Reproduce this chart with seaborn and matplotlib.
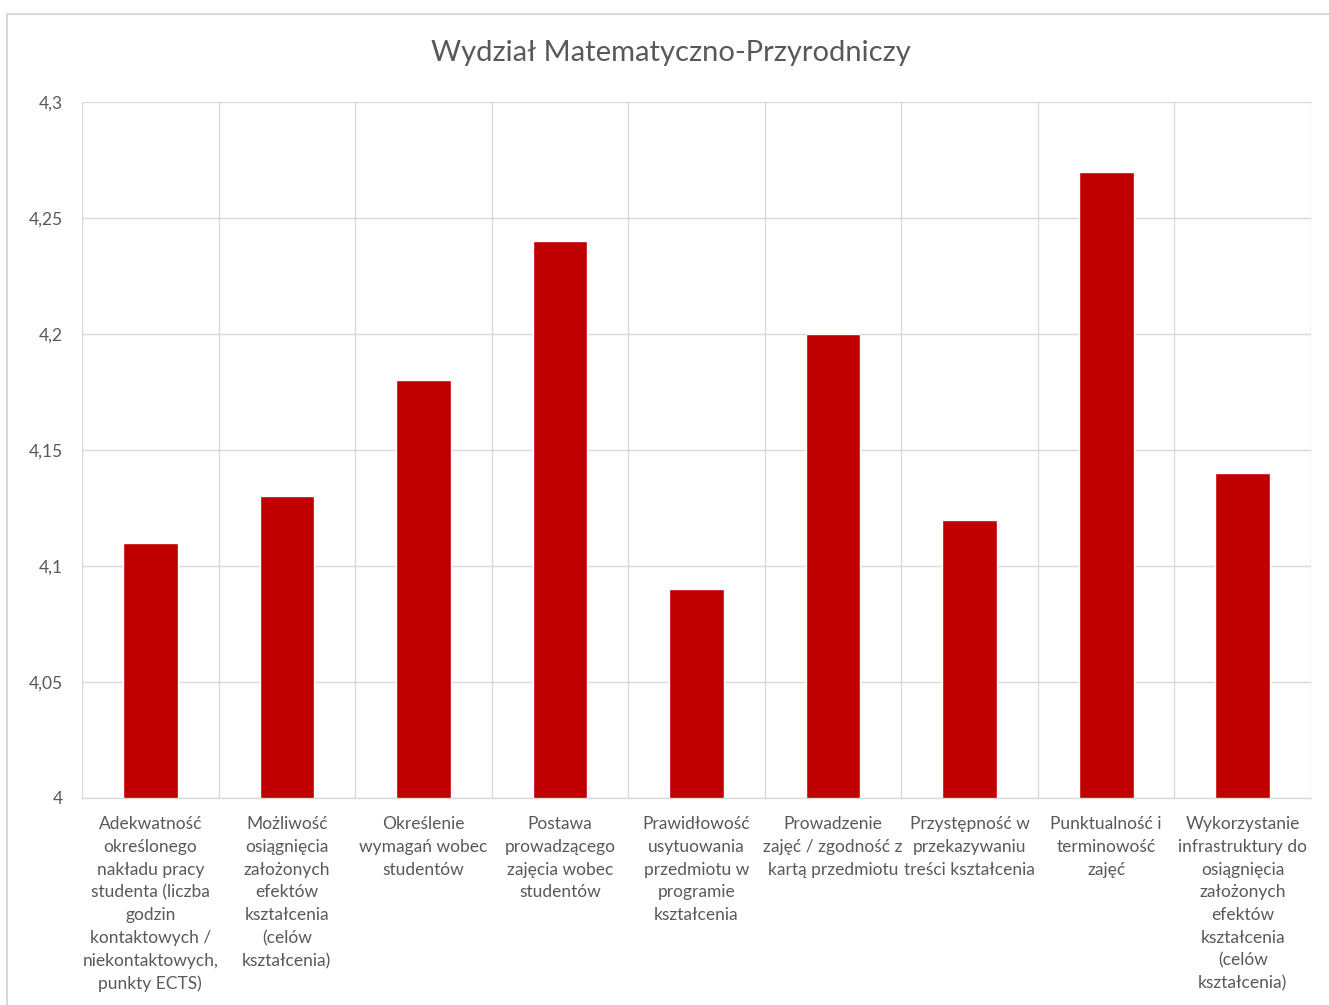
import matplotlib
matplotlib.use('Agg')
import matplotlib.pyplot as plt
import matplotlib.patches as mpatches
from matplotlib.ticker import FuncFormatter, MultipleLocator, FixedLocator
import seaborn as sns
import pandas as pd

# --- data ---
categories = [
    "Adekwatność\nokreślonego\nnakładu pracy\nstudenta (liczba\ngodzin\nkontaktowych /\nniekontaktowych,\npunkty ECTS)",
    "Możliwość\nosiągnięcia\nzałożonych\nefektów\nkształcenia\n(celów\nkształcenia)",
    "Określenie\nwymagań wobec\nstudentów",
    "Postawa\nprowadzącego\nzajęcia wobec\nstudentów",
    "Prawidłowość\nusytuowania\nprzedmiotu w\nprogramie\nkształcenia",
    "Prowadzenie\nzajęć / zgodność z\nkartą przedmiotu",
    "Przystępność w\nprzekazywaniu\ntreści kształcenia",
    "Punktualność i\nterminowość\nzajęć",
    "Wykorzystanie\ninfrastruktury do\nosiągnięcia\nzałożonych\nefektów\nkształcenia\n(celów\nkształcenia)",
]
values = [4.11, 4.13, 4.18, 4.24, 4.09, 4.20, 4.12, 4.27, 4.14]
title = "Wydział Matematyczno-Przyrodniczy"

df = pd.DataFrame({'cat': categories, 'val': values})

sns.set_style('white')
plt.rcParams['font.family'] = ['Lato', 'DejaVu Sans']

TXT = '#595959'
GRID = '#D9D9D9'
BAR = '#C00000'

fig = plt.figure(figsize=(13.29, 10.05), dpi=100)
ax = fig.add_axes([0.0617, 0.2060, 0.9248, 0.6925])

sns.barplot(data=df, x='cat', y='val', color=BAR, width=0.4, ax=ax, saturation=1)

ax.set_ylim(4, 4.3)
ax.set_xlim(-0.5, len(categories) - 0.5)
ax.yaxis.set_major_locator(MultipleLocator(0.05))
ax.yaxis.set_major_formatter(FuncFormatter(lambda v, p: f"{round(v, 2):g}".replace('.', ',')))
ax.xaxis.set_minor_locator(FixedLocator([i - 0.5 for i in range(len(categories) + 1)]))

ax.grid(axis='y', which='major', color=GRID, linewidth=1)
ax.grid(axis='x', which='minor', color=GRID, linewidth=1)
ax.grid(axis='x', which='major', visible=False)
ax.set_axisbelow(True)
for s in ['top', 'right', 'left']:
    ax.spines[s].set_visible(False)
ax.spines['bottom'].set_color(GRID)
ax.spines['bottom'].set_linewidth(1)

ax.tick_params(axis='both', which='both', length=0, colors=TXT, labelsize=12.5)
ax.tick_params(axis='y', pad=14)
ax.tick_params(axis='x', pad=13)
for lbl in ax.get_xticklabels():
    lbl.set_linespacing(1.52)
    lbl.set_va('top')
ax.set_xlabel('')
ax.set_ylabel('')

fig.text(0.505, 0.947, title, ha='center', va='center', fontsize=21, color=TXT)

# chart border
top = 1 - 14 / 1005
fig.patches.append(mpatches.Rectangle((7 / 1329, -0.05), 1.1, top + 0.05,
                                      transform=fig.transFigure, fill=False,
                                      edgecolor=GRID, linewidth=1.5))

fig.savefig('out.png', dpi=100)
